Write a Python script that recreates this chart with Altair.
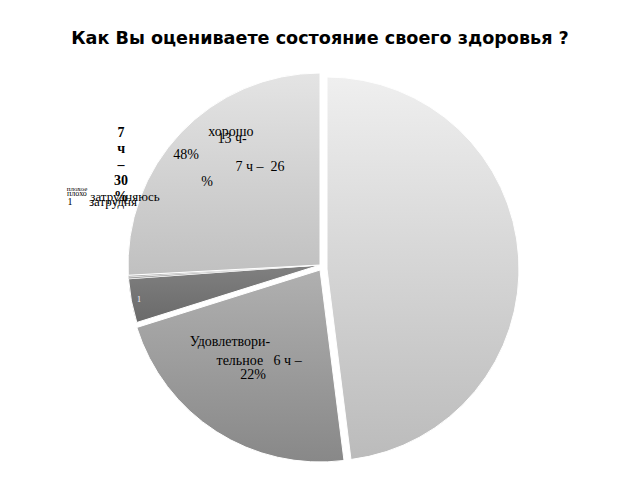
import math
import altair as alt
import pandas as pd

# ---- data ----
categories = ["хорошо", "удовлетворительно", "плохо", "плохое", "затрудняюсь", "7 ч"]
counts = [13, 6, 1, 0.04, 0.04, 7]
order = [0, 1, 2, 3, 4, 5]

title_text = "Как Вы оцениваете состояние своего здоровья ?"
label_texts = [
    "хорошо", "13 ч-", "48%", "7 ч –\u00a0\u00a026", "%",
    "7\nч\n–\n30\n%",
    "плохое", "плохо", "затрудняюсь", "затрудня", "1",
    "1",
    "Удовлетвори-", "тельное\u00a0\u00a0\u00a06 ч –", "22%",
]

df = pd.DataFrame({"cat": categories, "n": counts, "ord": order})
total = float(sum(counts))
theta_scale = alt.Scale(domain=[0, total], range=[0, 2 * math.pi])

R = 192


def grad(c0, c1):
    return alt.LinearGradient(
        gradient="linear", x1=0, y1=0, x2=0, y2=1,
        stops=[alt.GradientStop(offset=0, color=c0), alt.GradientStop(offset=1, color=c1)],
    )


def slice_layer(cat, c0, c1, dx=0, dy=0, sw=1):
    return (
        alt.Chart(df)
        .transform_window(cum="sum(n)", sort=[alt.SortField("ord")], frame=[None, 0])
        .transform_calculate(start="datum.cum - datum.n")
        .transform_filter(alt.datum.cat == cat)
        .mark_arc(radius=R, xOffset=dx, yOffset=dy, stroke="white", strokeWidth=sw,
                  fill=grad(c0, c1))
        .encode(
            theta=alt.Theta("start:Q", scale=theta_scale, stack=None),
            theta2="cum:Q",
        )
    )


def label(i, theta_deg, r, size=14, bold=False, color="#000000", lh=16, baseline="middle"):
    return (
        alt.Chart(alt.Data(values=[{"t": label_texts[i]}]))
        .mark_text(
            theta=math.radians(theta_deg), radius=r, fontSize=size,
            font="Liberation Serif", fontWeight="bold" if bold else "normal",
            color=color, align="center", baseline=baseline, lineHeight=lh,
            lineBreak="\n",
        )
        .encode(text="t:N")
    )


slices = [
    slice_layer("хорошо", "#efefef", "#bbbbbb", 7, 4),
    slice_layer("удовлетворительно", "#b0b0b0", "#888888", 0, 5),
    slice_layer("плохо", "#808080", "#6a6a6a"),
    slice_layer("плохое", "#a0a0a0", "#909090", sw=0.5),
    slice_layer("затрудняюсь", "#b8b8b8", "#a8a8a8", sw=0.5),
    slice_layer("7 ч", "#e4e4e4", "#c0c0c0"),
]

labels = [
    label(0, 326.2, 160.0),
    label(1, 325.1, 153.7),
    label(2, 309.4, 173.4),
    label(3, 328.5, 114.9),
    label(4, 306.3, 140.2),
    label(5, 303.6, 238.8, size=14, bold=True),
    label(6, 287.4, 254.6, size=7),
    label(7, 286.3, 253.2, size=8),
    label(8, 289.2, 206.5, size=13),
    label(9, 286.9, 216.4, size=13),
    label(10, 284.1, 257.8, size=10),
    label(11, 259.1, 184.4, size=8, color="#ffffff"),
    label(12, 229.45, 118.4),
    label(13, 212.4, 113.7),
    label(14, 211.35, 128.8),
]

chart = (
    alt.layer(*slices, *labels)
    .properties(
        width=624,
        height=394,
        title=alt.TitleParams(
            title_text, font="DejaVu Sans", fontSize=17.6, fontWeight="bold",
            color="#000000", offset=20, anchor="middle",
        ),
        autosize=alt.AutoSizeParams(type="none"),
        padding={"left": 0, "top": 60, "right": 0, "bottom": 20},
    )
    .configure_view(stroke=None)
)

chart.save("out.html", embed_options={"renderer": "svg", "actions": False})
